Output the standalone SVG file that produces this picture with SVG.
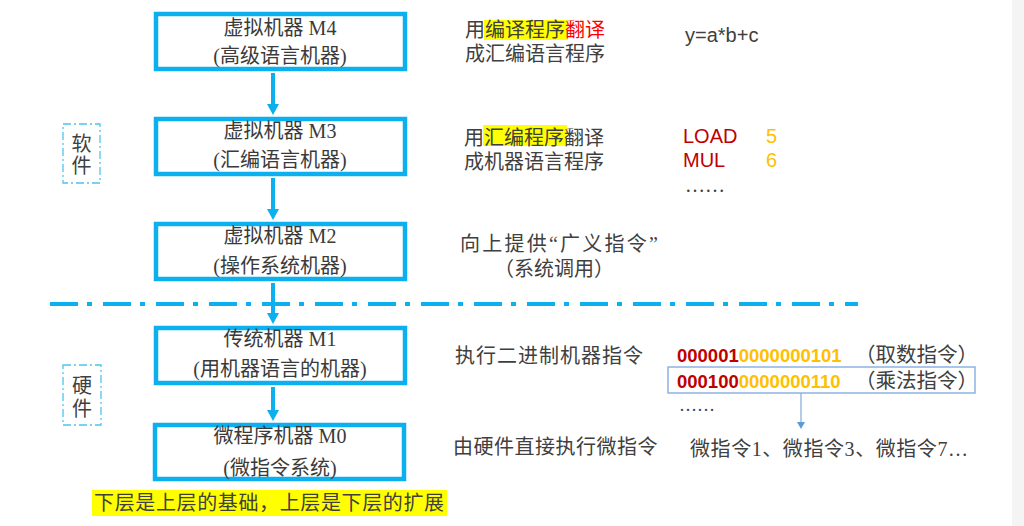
<svg xmlns="http://www.w3.org/2000/svg" width="1024" height="526" viewBox="0 0 1024 526">
<style>
.box{fill:none;stroke:#0cb0ef;stroke-width:4.5}
.bt{font-family:"Liberation Serif","Noto Sans CJK SC",serif;font-size:20px;fill:#3a3a3a;text-anchor:middle}
.cj{font-family:"Noto Sans CJK SC","Liberation Sans",sans-serif;font-size:20px;fill:#404040}
.sr{font-family:"Liberation Serif","Noto Sans CJK SC",serif;font-size:20px;fill:#404040}
.en{font-family:"Liberation Sans",Arial,sans-serif;font-size:20px}
.bin{font-family:"Liberation Sans",Arial,sans-serif;font-size:18.5px;font-weight:bold}
.tag{fill:none;stroke:#4fc3f0;stroke-width:1.3;stroke-dasharray:8 3 2 3}
.conn{stroke:#0cb0ef;stroke-width:4;fill:none}
.red{fill:#c00000}
.yel{fill:#ffc000}
</style>
<defs>
<marker id="ah" markerUnits="userSpaceOnUse" markerWidth="12" markerHeight="14" viewBox="0 -7 12 14" refX="0" refY="0" orient="auto">
<path d="M0,-6 L11,0 L0,6 z" fill="#0cb0ef"/>
</marker>
<marker id="ah2" markerUnits="userSpaceOnUse" markerWidth="8" markerHeight="8" viewBox="0 -4 8 8" refX="0" refY="0" orient="auto">
<path d="M0,-4 L7,0 L0,4 z" fill="#5b9bd5"/>
</marker>
</defs>
<rect x="0" y="0" width="1024" height="526" fill="#ffffff"/>
<rect x="1012" y="0" width="12" height="526" fill="#f4f4f4"/>

<g id="connectors">
<line class="conn" x1="273" y1="73" x2="273" y2="104" marker-end="url(#ah)"/>
<line class="conn" x1="273" y1="178" x2="273" y2="209" marker-end="url(#ah)"/>
<line class="conn" x1="273" y1="283" x2="273" y2="313" marker-end="url(#ah)"/>
<line class="conn" x1="273" y1="387" x2="273" y2="410" marker-end="url(#ah)"/>
<line x1="801" y1="393" x2="801" y2="422" stroke="#7fa9da" stroke-width="1.2" marker-end="url(#ah2)"/>
</g>

<g id="divider">
<line x1="50" y1="304" x2="858" y2="304" stroke="#0cb0ef" stroke-width="4" stroke-dasharray="28 9 5 11"/>
</g>

<g id="m4">
<rect class="box" x="156" y="14" width="249" height="55"/>
<text class="bt" x="280" y="34.5">虚拟机器 M4</text>
<text class="bt" x="280" y="62.5">(高级语言机器)</text>
</g>
<g id="m3">
<rect class="box" x="156" y="119" width="249" height="55"/>
<text class="bt" x="280" y="137.5">虚拟机器 M3</text>
<text class="bt" x="280" y="166.5">(汇编语言机器)</text>
</g>
<g id="m2">
<rect class="box" x="156" y="224" width="249" height="55"/>
<text class="bt" x="280" y="242.5">虚拟机器 M2</text>
<text class="bt" x="280" y="272.5">(操作系统机器)</text>
</g>
<g id="m1">
<rect class="box" x="156" y="328" width="249" height="55"/>
<text class="bt" x="280" y="345.5">传统机器 M1</text>
<text class="bt" x="280" y="375.5">(用机器语言的机器)</text>
</g>
<g id="m0">
<rect class="box" x="155" y="425" width="249" height="54"/>
<text class="bt" x="280" y="442.5">微程序机器 M0</text>
<text class="bt" x="280" y="474.5">(微指令系统)</text>
</g>

<g id="software">
<rect class="tag" x="63" y="124" width="37" height="59"/>
<text class="sr" x="81.5" y="150.5" text-anchor="middle">软</text>
<text class="sr" x="81.5" y="172.5" text-anchor="middle">件</text>
</g>
<g id="hardware">
<rect class="tag" x="63" y="365" width="38" height="60"/>
<text class="sr" x="82" y="392.5" text-anchor="middle">硬</text>
<text class="sr" x="82" y="415.5" text-anchor="middle">件</text>
</g>

<g id="desc-m4">
<rect x="484" y="20" width="84" height="20" fill="#ffff00"/>
<text class="sr" x="465" y="36.5">用编译程序<tspan fill="#ff0000">翻译</tspan></text>
<text class="sr" x="465" y="60.5">成汇编语言程序</text>
<text class="en" x="685" y="42" fill="#404040">y=a*b+c</text>
</g>

<g id="desc-m3">
<rect x="483" y="125" width="84" height="21" fill="#ffff00"/>
<text class="sr" x="464" y="144.5">用汇编程序翻译</text>
<text class="sr" x="464" y="168.5">成机器语言程序</text>
<text class="en red" x="683" y="143">LOAD</text>
<text class="en yel" x="766" y="143">5</text>
<text class="en red" x="683" y="167">MUL</text>
<text class="en yel" x="766" y="167">6</text>
<text class="sr" x="685" y="192">……</text>
</g>

<g id="desc-m2">
<text class="sr" x="460" y="250.5" textLength="198" lengthAdjust="spacing">向上提供“广义指令”</text>
<text class="sr" x="494" y="275.5">（系统调用）</text>
</g>

<g id="desc-m1">
<text class="sr" x="455" y="362.5" letter-spacing="1">执行二进制机器指令</text>
<text class="bin" x="677" y="362"><tspan class="red">000001</tspan><tspan class="yel">0000000101</tspan></text>
<text class="sr" x="855" y="362" style="font-size:20.5px">（取数指令）</text>
<rect x="668" y="367" width="307" height="26" fill="none" stroke="#8db3e2" stroke-width="1.5"/>
<text class="bin" x="677" y="388"><tspan class="red">000100</tspan><tspan class="yel">0000000110</tspan></text>
<text class="sr" x="855" y="388" style="font-size:20.5px">（乘法指令）</text>
<text class="sr" x="679" y="411" style="font-size:18px">……</text>
</g>

<g id="desc-m0">
<text class="sr" x="453" y="453.5" letter-spacing="0.5">由硬件直接执行微指令</text>
<text class="sr" x="690" y="455.5" textLength="278" lengthAdjust="spacing">微指令1、微指令3、微指令7…</text>
</g>

<g id="note">
<rect x="92" y="490" width="355" height="26" fill="#ffff00"/>
<text class="sr" x="94" y="510" textLength="350" lengthAdjust="spacing" fill="#333">下层是上层的基础，上层是下层的扩展</text>
</g>
</svg>
